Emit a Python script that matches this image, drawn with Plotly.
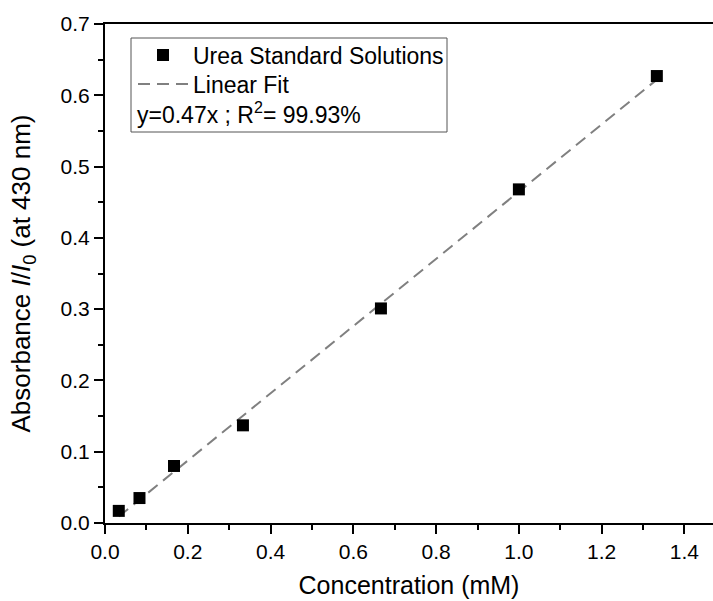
import plotly.graph_objects as go

# Data
conc_mM = [0.0333, 0.0833, 0.1667, 0.3333, 0.6667, 1.0, 1.3333]
absorbance = [0.017, 0.035, 0.080, 0.137, 0.301, 0.468, 0.627]
fit_x = [0.0333, 1.3333]
fit_y = [0.009, 0.622]

x_ticks = [0.0, 0.2, 0.4, 0.6, 0.8, 1.0, 1.2, 1.4]
y_ticks = [0.0, 0.1, 0.2, 0.3, 0.4, 0.5, 0.6, 0.7]

FONT = "Liberation Sans, Arial, sans-serif"

fig = go.Figure()
fig.add_trace(go.Scatter(
    x=fit_x, y=fit_y, mode="lines", name="Linear Fit", legend="legend2",
    line=dict(color="#808080", width=2, dash="12px,7px"),
))
fig.add_trace(go.Scatter(
    x=conc_mM, y=absorbance, mode="markers", name="Urea Standard Solutions", legend="legend",
    marker=dict(symbol="square", size=12, color="black"),
))

axis_common = dict(
    showline=True, linecolor="black", linewidth=2,
    ticks="outside", ticklen=9, tickwidth=2, tickcolor="black",
    tickfont=dict(family=FONT, size=21, color="black"),
    showgrid=False, zeroline=False,
    tickformat=".1f",
)

fig.update_xaxes(
    **axis_common,
    range=[0, 1.469], tickvals=x_ticks, mirror=True,
    minor=dict(dtick=0.1, ticks="outside", ticklen=5, tickwidth=2, tickcolor="black"),
    title=dict(text="Concentration (mM)", font=dict(family=FONT, size=25, color="black"), standoff=14),
)
fig.update_yaxes(
    **axis_common,
    range=[0, 0.7], tickvals=y_ticks,
    minor=dict(dtick=0.05, ticks="outside", ticklen=5, tickwidth=2, tickcolor="black"),
    title=dict(text="Absorbance <i>I</i>/<i>I</i><sub>0</sub> (at 430 nm)",
               font=dict(family=FONT, size=26, color="black"), standoff=22),
)

# legend box
fig.add_shape(type="rect", xref="paper", yref="paper",
              x0=(131 - 105) / 608, x1=(447 - 105) / 608,
              y0=(523 - 132) / 499, y1=(523 - 38) / 499,
              line=dict(color="#555555", width=1), fillcolor="white", layer="below")

fig.add_annotation(
    xref="paper", yref="paper", x=(135 - 105) / 608, y=(523 - 113) / 499,
    xanchor="left", yanchor="middle", showarrow=False,
    text="y=0.47x ; R<sup>2</sup>= 99.93%",
    font=dict(family=FONT, size=23, color="black"),
)

legend_common = dict(
    xanchor="left", yanchor="middle",
    bgcolor="rgba(0,0,0,0)", borderwidth=0,
    font=dict(family=FONT, size=23, color="black"),
    itemwidth=50,
)

fig.update_layout(
    width=713, height=601,
    margin=dict(l=105, r=0, t=24, b=78, autoexpand=False),
    plot_bgcolor="white", paper_bgcolor="white",
    font=dict(family=FONT, size=22, color="black"),
    showlegend=True,
    legend=dict(x=(133 - 105) / 608, y=(523 - 55) / 499, **legend_common),
    legend2=dict(x=(133 - 105) / 608, y=(523 - 84) / 499, **legend_common),
)

fig.write_html("out.html")
